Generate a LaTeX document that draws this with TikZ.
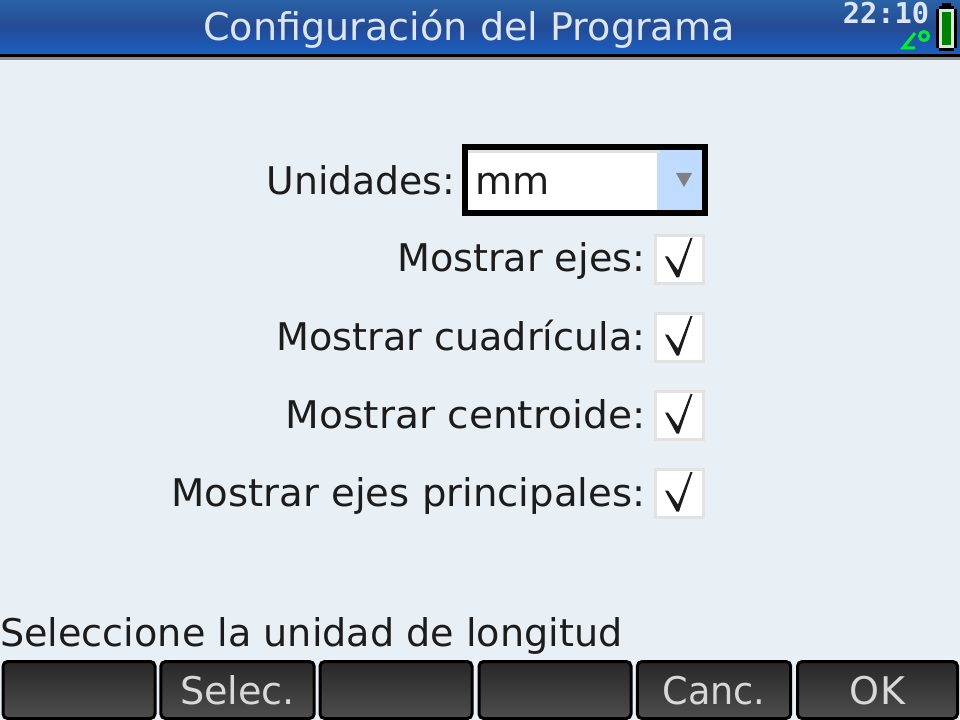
\documentclass[tikz,border=0pt]{standalone}
\usepackage{graphicx}
\usepackage{fontspec}
\setmainfont{DejaVu Sans}
\newfontfamily\clockfont{DejaVu Sans Mono}
\definecolor{bgc}{HTML}{E8F0F6}
\definecolor{bart}{HTML}{2A62A6}
\definecolor{barm}{HTML}{244A94}
\definecolor{barb}{HTML}{1A60C4}
\definecolor{titlec}{HTML}{DCE6F2}
\definecolor{ink}{HTML}{1C1C1C}
\definecolor{selblue}{HTML}{BFDBFF}
\definecolor{boxedge}{HTML}{E2E2E2}
\definecolor{btop}{HTML}{272727}
\definecolor{bbot}{HTML}{4E4E4E}
\definecolor{btxt}{HTML}{D8D8D8}
\definecolor{icongreen}{HTML}{00F030}
\definecolor{batgreen}{HTML}{008000}
\newcommand{\uifont}{\fontsize{28.6pt}{31pt}\selectfont}
\tikzset{
  x=0.75pt,y=-0.75pt,
  lab/.style={anchor=base east,inner sep=0pt,text=ink,font=\uifont},
  softbtn/.style={draw=black,line width=2.25pt,rounded corners=3.5pt,top color=btop,bottom color=bbot,
    minimum height=42.75pt,inner sep=0pt,text=btxt,font=\uifont,text height=21.5pt,text depth=0pt},
  chk/.style={draw=boxedge,fill=white,line width=2.25pt,minimum size=36pt,inner sep=0pt},
  tickmark/.style={fill=ink,draw=none}
}
\begin{document}
\begin{tikzpicture}
\useasboundingbox (0,0) rectangle (960,720);
\fill[bgc] (0,0) rectangle (960,720);
% title bar
\shade[top color=bart,bottom color=barb,middle color=barm] (0,0) rectangle (960,54);
\fill[black] (0,54) rectangle (960,57);
\fill[gray!90] (0,57) rectangle (960,60);
\node[anchor=base,inner sep=0pt,text=titlec,font=\uifont] (title) at (469,41) {Configuración del Programa};
\node[anchor=base,inner sep=0pt,text=titlec,font=\clockfont\bfseries\fontsize{21.5pt}{24pt}\selectfont] (clock) at (886,23.5) {22:10};
% angle icon
\draw[icongreen,line width=2.25pt,line join=miter] (915,33) -- (903,48) -- (915,48);
\draw[icongreen,line width=2.25pt] (924,36) circle[radius=4.5];
% battery
\fill[black] (942,3) rectangle (951,6);
\fill[black] (939,6) rectangle (954,51);
\fill[black] (936,9) rectangle (957,48);
\fill[boxedge] (939,9) rectangle (954,48);
\fill[batgreen] (942,12) rectangle (951,45);
% dropdown
\fill[white] (465,147) rectangle (705,213);
\fill[selblue] (657,150) rectangle (702,210);
\fill[boxedge] (468,150) rectangle (660,153);
\draw[black,line width=4.5pt] (465,147) rectangle (705,213);
\fill[gray] (676,173) -- (692,173) -- (684,187) -- cycle;
\node[anchor=base west,inner sep=0pt,text=ink,font=\uifont] (unit) at (475,195) {mm};
% labels
\node[lab] (l0) at (455.5,195) {\scalebox{0.99}[1]{Unidades:}};
\node[lab] (l1) at (645.5,272) {Mostrar ejes:};
\node[lab] (l2) at (645.5,350) {Mostrar cuadrícula:};
\node[lab] (l3) at (645.5,428) {\scalebox{1.025}[1]{Mostrar centroide:}};
\node[lab] (l4) at (645.5,506) {\scalebox{1.012}[1]{Mostrar ejes principales:}};
% checkboxes
\foreach \n/\yy in {1/259.5,2/337.5,3/415.5,4/493.5}{
  \node[chk] (c\n) at (679.5,\yy) {};
  \fill[tickmark] (665,\yy-3) -- (668,\yy-3) -- (678,\yy+11) -- (690.5,\yy-21.5) -- (692.5,\yy-21.5) -- (679,\yy+18) -- (676.5,\yy+18) -- cycle;
}
% status
\node[anchor=base west,inner sep=0pt,text=ink,font=\uifont] (status) at (0,646) {Seleccione la unidad de longitud};
% soft keys
\node[softbtn,minimum width=114pt] (b1) at (79,690) {};
\node[softbtn,minimum width=115pt] (b2) at (237.5,690) {Selec.};
\node[softbtn,minimum width=114pt] (b3) at (396,690) {};
\node[softbtn,minimum width=114pt] (b4) at (555,690) {};
\node[softbtn,minimum width=115pt] (b5) at (714,690) {\scalebox{0.96}[1]{Canc.}};
\node[softbtn,minimum width=120pt] (b6) at (877.5,690) {OK};
\end{tikzpicture}
\end{document}
